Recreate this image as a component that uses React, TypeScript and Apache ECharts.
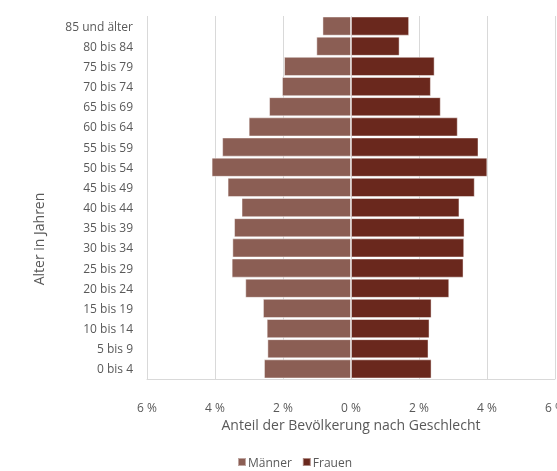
import React, { useEffect, useRef } from "react";
import * as echarts from "echarts";

const categories = [
  "0 bis 4", "5 bis 9", "10 bis 14", "15 bis 19", "20 bis 24", "25 bis 29",
  "30 bis 34", "35 bis 39", "40 bis 44", "45 bis 49", "50 bis 54", "55 bis 59",
  "60 bis 64", "65 bis 69", "70 bis 74", "75 bis 79", "80 bis 84", "85 und älter",
];
const maenner = [2.56, 2.46, 2.48, 2.59, 3.11, 3.51, 3.49, 3.44, 3.22, 3.63, 4.1, 3.79, 3.01, 2.41, 2.03, 1.97, 1.02, 0.84];
const frauen = [2.37, 2.28, 2.31, 2.37, 2.89, 3.31, 3.33, 3.34, 3.19, 3.64, 4.01, 3.75, 3.14, 2.64, 2.35, 2.46, 1.43, 1.71];
const xTicks = [-6, -4, -2, 0, 2, 4, 6];

const FONT = "Open Sans";
const GRAY = "#595959";

export default function App() {
  const ref = useRef<HTMLDivElement>(null);
  useEffect(() => {
    if (!ref.current) return;
    const chart = echarts.init(ref.current, undefined, { renderer: "svg" });
    chart.setOption({
      animation: false,
      textStyle: { fontFamily: FONT },
      grid: { left: 147, right: 2, top: 16, bottom: 92, containLabel: false, outerBoundsMode: "none" },
      legend: {
        data: ["Männer", "Frauen"],
        left: 237,
        top: 456,
        padding: 0,
        icon: "rect",
        itemWidth: 8,
        itemHeight: 8,
        itemGap: 10,
        textStyle: { color: GRAY, fontSize: 12, fontFamily: FONT, padding: [0, 0, 0, -3] },
      },
      xAxis: {
        type: "value",
        min: xTicks[0],
        max: xTicks[xTicks.length - 1],
        interval: 2,
        name: "Anteil der Bevölkerung nach Geschlecht",
        nameLocation: "middle",
        nameGap: 33,
        nameTextStyle: { color: GRAY, fontSize: 14, fontFamily: FONT },
        axisLine: { show: true, lineStyle: { color: "#d9d9d9" } },
        axisTick: { show: false },
        axisLabel: {
          color: GRAY,
          fontSize: 12,
          margin: 22,
          formatter: (v: number) => `${Math.abs(v)} %`,
        },
        splitLine: { show: true, lineStyle: { color: "#d9d9d9" } },
      },
      yAxis: {
        type: "category",
        data: categories,
        axisLine: { show: false },
        axisTick: { show: false },
        axisLabel: { color: GRAY, fontSize: 12, margin: 14 },
      },
      graphic: [
        {
          type: "text",
          x: 38,
          y: 239,
          rotation: Math.PI / 2,
          style: {
            text: "Alter in Jahren",
            fill: GRAY,
            fontSize: 14,
            fontFamily: FONT,
            align: "center",
            verticalAlign: "middle",
          },
        },
      ],
      series: [
        {
          name: "Männer",
          type: "bar",
          stack: "pop",
          data: maenner.map((v) => -v),
          barCategoryGap: "5%",
          itemStyle: { color: "#8B5E54", borderColor: "rgba(255,255,255,0.45)", borderWidth: 1 },
        },
        {
          name: "Frauen",
          type: "bar",
          stack: "pop",
          data: frauen,
          barCategoryGap: "5%",
          itemStyle: { color: "#6A281D", borderColor: "rgba(255,255,255,0.45)", borderWidth: 1 },
        },
      ],
    });
    return () => chart.dispose();
  }, []);
  return <div ref={ref} style={{ position: "fixed", left: 0, top: 0, width: 557, height: 471 }} />;
}
